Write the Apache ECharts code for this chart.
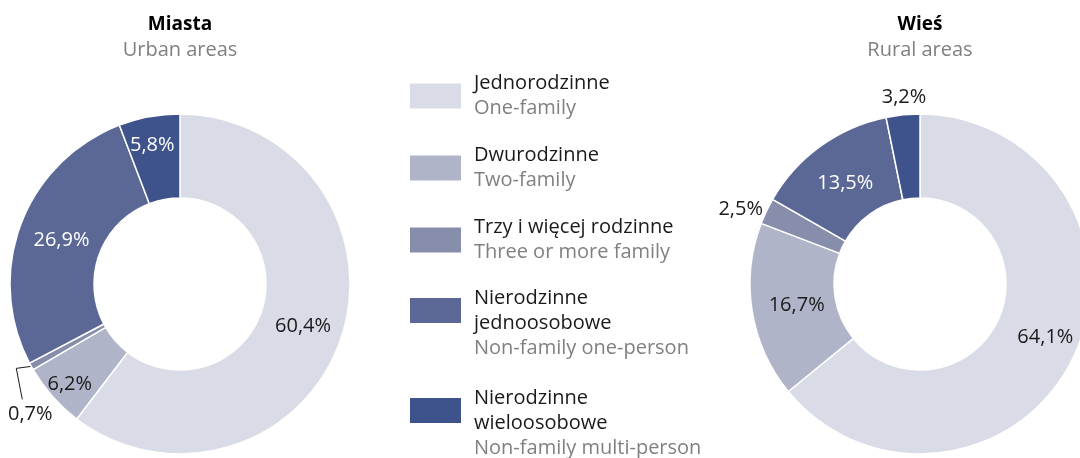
<!DOCTYPE html>
<html>
<head>
<meta charset="utf-8">
<script src="https://cdn.jsdelivr.net/npm/echarts@6/dist/echarts.min.js"></script>
<style>
  html, body { margin: 0; padding: 0; background: #fff; }
  #chart { width: 1080px; height: 458px; }
</style>
</head>
<body>
<div id="chart"></div>
<script>
// data
const categories = ['Jednorodzinne', 'Dwurodzinne', 'Trzy i więcej rodzinne', 'Nierodzinne jednoosobowe', 'Nierodzinne wieloosobowe'];
const categoryLinesPl = [['Jednorodzinne'], ['Dwurodzinne'], ['Trzy i więcej rodzinne'], ['Nierodzinne', 'jednoosobowe'], ['Nierodzinne', 'wieloosobowe']];
const categoriesEn = ['One-family', 'Two-family', 'Three or more family', 'Non-family one-person', 'Non-family multi-person'];
const urbanValues = [60.4, 6.2, 0.7, 26.9, 5.8];
const ruralValues = [64.1, 16.7, 2.5, 13.5, 3.2];
const chartTitles = ['Miasta', 'Wieś'];
const chartSubtitles = ['Urban areas', 'Rural areas'];

// styling
const FONT = 'Open Sans';
const FS = 20;
const colors = ['#d9dce6', '#afb4c9', '#878eac', '#5b6895', '#3e528c'];
const insideLabelColors = ['#1a1a1a', '#1a1a1a', '#1a1a1a', '#ffffff', '#ffffff'];
const centersX = [180, 920];
const legendIconCenters = [95.5, 167.5, 239.5, 310, 410];

// small nudges of the labels (dx, dy)
const urbanShift = { 0: [-1, 0], 1: [-12, 14], 3: [4, 3], 4: [-4, -10] };
const ruralShift = { 0: [7, -3], 1: [6, 0], 2: [7, 1], 3: [2, 6], 4: [29, -12] };

const fmt = (v) => v.toFixed(1).replace('.', ',') + '%';

function buildData(values, outside, withLine) {
  return values.map((v, i) => {
    const isOut = outside.indexOf(i) >= 0;
    return {
      name: categories[i],
      value: v,
      itemStyle: { color: colors[i] },
      label: {
        position: isOut ? 'outside' : 'inside',
        color: isOut ? '#1a1a1a' : insideLabelColors[i]
      },
      labelLine: {
        show: isOut && withLine,
        length: 6,
        length2: 0,
        lineStyle: { color: '#1a1a1a', width: 1 }
      }
    };
  });
}

const chart = echarts.init(document.getElementById('chart'));

const pieBase = {
  type: 'pie',
  radius: [86, 170],
  startAngle: 90,
  clockwise: true,
  avoidLabelOverlap: false,
  silent: true,
  itemStyle: { borderColor: '#ffffff', borderWidth: 1.5 },
  label: {
    fontSize: FS,
    fontFamily: FONT,
    formatter: (p) => fmt(p.value)
  },
  emphasis: { disabled: true }
};

const option = {
  backgroundColor: '#ffffff',
  animation: false,
  textStyle: { fontFamily: FONT },
  title: chartTitles.map((t, i) => ({
    text: t,
    subtext: chartSubtitles[i],
    left: centersX[i],
    top: 15,
    padding: 0,
    textAlign: 'center',
    itemGap: 6,
    textStyle: { fontSize: 19, fontWeight: 'bold', color: '#000000', fontFamily: FONT },
    subtextStyle: { fontSize: FS, color: '#808080', fontFamily: FONT }
  })),
  legend: categories.map((c, i) => {
    const multi = categoryLinesPl[i].length > 1;
    return {
      data: [c],
      orient: 'vertical',
      left: 408,
      top: legendIconCenters[i] - (multi ? 50 : 25) + 3,
      padding: 0,
      icon: 'rect',
      itemWidth: 53,
      itemHeight: 27,
      selectedMode: false,
      formatter: (name) => {
        const idx = categories.indexOf(name);
        const lines = categoryLinesPl[idx].map((l) => '{a|' + l + '}');
        if (lines.length > 1) lines.unshift('{a| }');
        lines.push('{b|' + categoriesEn[idx] + '}');
        return lines.join('\n');
      },
      textStyle: {
        padding: [0, 0, 0, 7],
        rich: {
          a: { fontSize: FS, color: '#1a1a1a', lineHeight: 25, fontFamily: FONT },
          b: { fontSize: FS, color: '#808080', lineHeight: 25, fontFamily: FONT }
        }
      }
    };
  }),
  series: [
    Object.assign({}, pieBase, {
      name: 'Miasta',
      center: [centersX[0], 284],
      data: buildData(urbanValues, [2], true),
      labelLayout: function (p) {
        if (p.dataIndex === 2 && p.labelLinePoints) {
          const s = p.labelLinePoints[0];
          return {
            x: s[0] - 1,
            y: s[1] + 48,
            align: 'center',
            verticalAlign: 'middle',
            labelLinePoints: [s, [s[0] - 15, s[1] + 2], [s[0] - 9, s[1] + 33]]
          };
        }
        const t = urbanShift[p.dataIndex];
        return t ? { dx: t[0], dy: t[1] } : {};
      }
    }),
    Object.assign({}, pieBase, {
      name: 'Wieś',
      center: [centersX[1], 284],
      data: buildData(ruralValues, [2, 4], false),
      labelLayout: function (p) {
        const t = ruralShift[p.dataIndex];
        return t ? { dx: t[0], dy: t[1] } : {};
      }
    })
  ]
};

chart.setOption(option);
</script>
</body>
</html>
